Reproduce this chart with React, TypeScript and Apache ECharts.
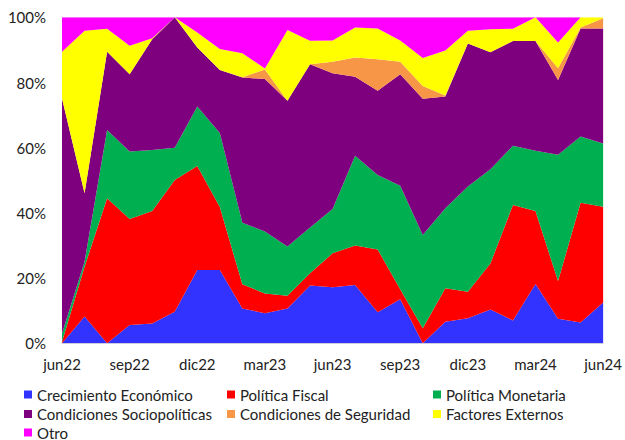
import React, { useEffect, useRef } from "react";
import * as echarts from "echarts";

const months = [
  "jun22", "jul22", "ago22", "sep22", "oct22", "nov22", "dic22",
  "ene23", "feb23", "mar23", "abr23", "may23", "jun23", "jul23", "ago23", "sep23", "oct23", "nov23", "dic23",
  "ene24", "feb24", "mar24", "abr24", "may24", "jun24",
];

const crecimiento = [0, 8.2, 0, 5.6, 6.1, 9.7, 22.5, 22.5, 10.7, 9.2, 10.7, 17.7, 17.2, 17.9, 9.5, 13.5, 0, 6.6, 7.7, 10.4, 7.0, 18.2, 7.5, 6.4, 12.5];
const fiscal = [0.5, 15.3, 44.5, 32.5, 34.5, 40.4, 31.9, 19.3, 7.4, 6.1, 3.9, 3.8, 10.4, 12.1, 19.3, 3.1, 4.6, 10.3, 8.1, 14.1, 35.4, 22.4, 11.6, 36.7, 29.4];
const monetaria = [2.5, 1.5, 20.9, 20.7, 18.7, 9.9, 18.2, 22.7, 18.9, 19.0, 15.1, 14.0, 13.6, 27.5, 22.8, 31.7, 28.6, 24.5, 32.3, 28.9, 18.2, 18.5, 38.7, 20.3, 19.4];
const sociopoliticas = [72.1, 21.0, 24.0, 23.7, 34.0, 40.0, 18.1, 19.3, 44.5, 46.8, 44.7, 50.1, 41.6, 24.3, 25.9, 34.2, 41.8, 34.3, 43.9, 35.9, 32.1, 33.6, 23.0, 33.2, 35.3];
const seguridad = [0, 0, 0, 0, 0, 0, 0, 0, 0.1, 2.9, 0, 0, 3.6, 5.9, 9.6, 3.9, 3.9, 0.3, 0, 0, 0, 0, 3.6, 0.3, 3.1];
const externos = [14.3, 49.9, 7.1, 8.8, 0.3, 0, 4.6, 6.5, 7.4, 0.3, 21.7, 7.2, 6.5, 9.2, 9.5, 6.5, 8.6, 13.8, 3.9, 7.0, 3.8, 7.3, 7.9, 3.1, 0.3];
const otro = [10.6, 4.1, 3.5, 8.7, 6.4, 0, 4.7, 9.7, 11.0, 15.7, 3.9, 7.2, 7.1, 3.1, 3.4, 7.1, 12.5, 10.2, 4.1, 3.7, 3.5, 0, 7.7, 0, 0];

const seriesNames = [
  "Crecimiento Económico",
  "Política Fiscal",
  "Política Monetaria",
  "Condiciones Sociopolíticas",
  "Condiciones de Seguridad",
  "Factores Externos",
  "Otro",
];
const seriesData = [crecimiento, fiscal, monetaria, sociopoliticas, seguridad, externos, otro];
const colors = ["#3333FF", "#FF0000", "#00B050", "#7F007F", "#F79646", "#FFFF00", "#FF00FF"];

const FONT = "Lato, 'Open Sans', sans-serif";

// legend grid: 3 columns, rows of items in series order
const legendCols = [24, 227, 433];
const legendRowCenters = [394, 413.5, 432];

export default function App() {
  const ref = useRef<HTMLDivElement>(null);

  useEffect(() => {
    if (!ref.current) return;
    const chart = echarts.init(ref.current, undefined, { renderer: "svg" });

    const legends = seriesNames.map((name, i) => ({
      orient: "horizontal" as const,
      left: legendCols[i % 3],
      top: legendRowCenters[Math.floor(i / 3)] - 7,
      padding: 0,
      itemWidth: 8,
      itemHeight: 8,
      icon: "rect",
      textStyle: { fontFamily: FONT, fontSize: 15, color: "#222", lineHeight: 14 },
      selectedMode: false,
      data: [name],
    }));

    chart.setOption({
      animation: false,
      color: colors,
      grid: { left: 62, right: 21, top: 17.3, bottom: 96.7, containLabel: false },
      legend: legends,
      xAxis: {
        type: "category",
        data: months,
        boundaryGap: false,
        axisLine: { show: true, lineStyle: { color: "#D9D9D9", width: 1 } },
        axisTick: { show: false },
        axisLabel: {
          interval: 2,
          margin: 13,
          fontFamily: FONT,
          fontSize: 15,
          color: "#222",
        },
        splitLine: { show: false },
      },
      yAxis: {
        type: "value",
        min: 0,
        max: 100,
        interval: 20,
        axisLine: { show: false },
        axisTick: { show: false },
        splitLine: { show: false },
        axisLabel: {
          formatter: "{value}%",
          margin: 16,
          fontFamily: FONT,
          fontSize: 15,
          color: "#222",
        },
      },
      series: seriesNames.map((name, i) => ({
        name,
        type: "line",
        stack: "total",
        data: seriesData[i],
        showSymbol: false,
        symbol: "none",
        lineStyle: { width: 0 },
        areaStyle: { color: colors[i], opacity: 1 },
        itemStyle: { color: colors[i] },
        emphasis: { disabled: true },
      })),
    });

    return () => chart.dispose();
  }, []);

  return <div ref={ref} style={{ width: 625, height: 440, position: "absolute", left: 0, top: 0 }} />;
}
